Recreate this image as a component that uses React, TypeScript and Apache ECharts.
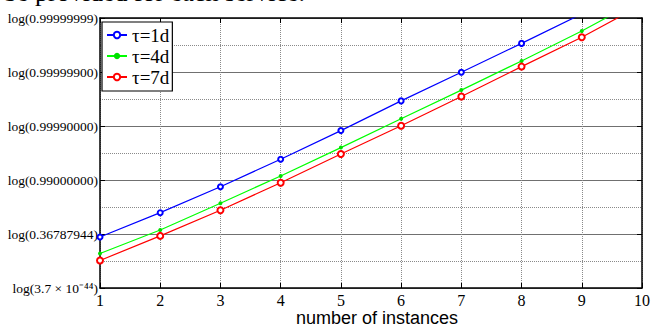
import React, { useEffect, useRef } from "react";
import * as echarts from "echarts";

const instances = [1, 2, 3, 4, 5, 6, 7, 8, 9, 10];
const tau1d = [-0.11, 0.79, 1.75, 2.77, 3.83, 4.93, 5.99, 7.06, 8.15, 9.25];
const tau4d = [-0.72, 0.15, 1.14, 2.15, 3.2, 4.27, 5.33, 6.41, 7.52, 8.72];
const tau7d = [-0.98, -0.07, 0.88, 1.9, 2.96, 4.01, 5.09, 6.2, 7.29, 8.49];
const yTickValues = [-2, 0, 2, 4, 6, 8];
const yTickLabels = [
  "log(3.7 × 10⁻⁴⁴)",
  "log(0.36787944)",
  "log(0.99000000)",
  "log(0.99990000)",
  "log(0.99999900)",
  "log(0.99999999)",
];
const seriesNames = ["τ=1d", "τ=4d", "τ=7d"];
const topText = "be provided for each service.";

const SERIF = '"Liberation Serif", "Times New Roman", serif';

export default function App() {
  const ref = useRef<HTMLDivElement>(null);
  useEffect(() => {
    if (!ref.current) return;
    const chart = echarts.init(ref.current, undefined, { renderer: "svg" });
    const mk = (vals: number[]) => instances.map((x, i) => [x, vals[i]]);
    const axisBox = {
      axisLine: { show: true, onZero: false, lineStyle: { color: "#000", width: 1.5 } },
      axisTick: { show: true, inside: true, length: 5, lineStyle: { color: "#000", width: 1 } },
    };
    chart.setOption({
      animation: false,
      backgroundColor: "#fff",
      grid: { left: 100, right: 12, top: 18, bottom: 37, outerBoundsMode: "none", containLabel: false },
      graphic: [
        {
          type: "text",
          x: 4,
          y: 5.5,
          style: {
            text: topText,
            font: `26px ${SERIF}`,
            fill: "#000",
            align: "left",
            verticalAlign: "bottom",
          },
        },
      ],
      legend: {
        orient: "vertical",
        left: 102,
        top: 22,
        padding: [3, 3, 4, 4],
        itemGap: 1,
        itemWidth: 20,
        itemHeight: 8,
        backgroundColor: "#fff",
        borderColor: "#000",
        borderWidth: 1.2,
        borderRadius: 0,
        textStyle: { fontFamily: SERIF, fontSize: 19, color: "#000", lineHeight: 20 },
        data: seriesNames,
      },
      xAxis: [
        {
          type: "value",
          min: 1,
          max: 10,
          interval: 1,
          name: "number of instances",
          nameLocation: "middle",
          nameGap: 21,
          nameMoveOverlap: false,
          nameTextStyle: {
            fontFamily: '"Liberation Sans", Arial, sans-serif',
            fontSize: 18,
            color: "#000",
            padding: [0, 0, 0, 12],
          },
          axisLabel: { fontFamily: SERIF, fontSize: 16, color: "#000", margin: 4 },
          splitLine: { show: true, lineStyle: { color: "#8a8a8a", type: "dotted", width: 1 } },
          ...axisBox,
        },
        {
          type: "value",
          position: "top",
          min: 1,
          max: 10,
          interval: 1,
          axisLabel: { show: false },
          splitLine: { show: false },
          ...axisBox,
        },
      ],
      yAxis: [
        {
          type: "value",
          min: -2,
          max: 8,
          interval: 2,
          axisLabel: {
            fontFamily: SERIF,
            fontSize: 13.5,
            color: "#000",
            margin: 2,
            formatter: (v: number) => {
              const i = yTickValues.indexOf(Math.round(v));
              return i >= 0 ? yTickLabels[i] : "";
            },
          },
          splitLine: { show: true, lineStyle: { color: "#707070", type: "solid", width: 1.2 } },
          minorTick: { show: false, splitNumber: 2 },
          minorSplitLine: { show: true, lineStyle: { color: "#8a8a8a", type: "dotted", width: 1 } },
          ...axisBox,
        },
        {
          type: "value",
          position: "right",
          min: -2,
          max: 8,
          interval: 2,
          axisLabel: { show: false },
          splitLine: { show: false },
          ...axisBox,
        },
      ],
      series: [
        {
          name: seriesNames[0],
          type: "line",
          data: mk(tau1d),
          clip: true,
          symbol: "emptyCircle",
          symbolSize: 5,
          lineStyle: { color: "#0000ff", width: 1.2 },
          itemStyle: { color: "#0000ff", borderWidth: 1.2 },
        },
        {
          name: seriesNames[1],
          type: "line",
          data: mk(tau4d),
          clip: true,
          symbol: "circle",
          symbolSize: 4,
          lineStyle: { color: "#00ff00", width: 1.2 },
          itemStyle: { color: "#00e000" },
        },
        {
          name: seriesNames[2],
          type: "line",
          data: mk(tau7d),
          clip: true,
          symbol: "emptyCircle",
          symbolSize: 6,
          lineStyle: { color: "#ff0000", width: 1.2 },
          itemStyle: { color: "#ff0000", borderWidth: 1.2 },
        },
      ],
    });
    return () => chart.dispose();
  }, []);
  return (
    <div
      ref={ref}
      style={{ position: "fixed", left: 0, top: 0, width: 654, height: 325, background: "#fff" }}
    />
  );
}
